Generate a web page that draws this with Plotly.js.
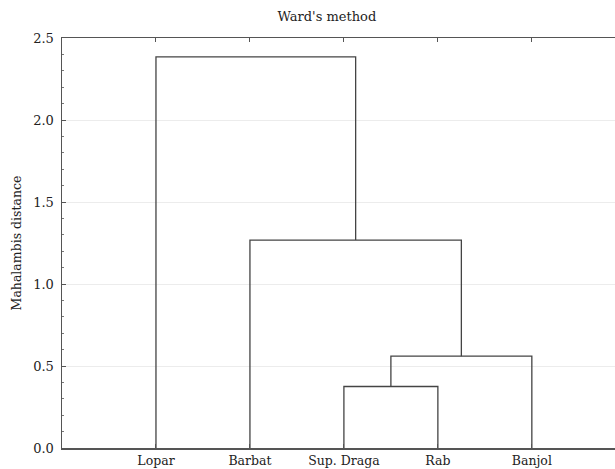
<!DOCTYPE html>
<html>
<head>
<meta charset="utf-8">
<script src="https://cdn.plot.ly/plotly-3.0.1.min.js"></script>
<style>html,body{margin:0;padding:0;background:#fff;}#chart{width:615px;height:469px;}</style>
</head>
<body>
<div id="chart"></div>
<script>
// Leaves in dendrogram order
const leaves = ["Lopar", "Barbat", "Sup. Draga", "Rab", "Banjol"];
// Linkage (scipy-style): cluster ids 0..4 are leaves, 5.. are merges
const linkA = [2, 5, 1, 0];
const linkB = [3, 4, 6, 7];
const linkHeight = [0.375, 0.56, 1.268, 2.385];

const yTickVals = [0, 0.5, 1.0, 1.5, 2.0, 2.5];
const yTickText = ["0.0", "0.5", "1.0", "1.5", "2.0", "2.5"];

// Compute node positions from linkage
const posX = leaves.map((_, i) => i + 1);
const posY = leaves.map(() => 0);
const traces = [];
for (let k = 0; k < linkA.length; k++) {
  const a = linkA[k], b = linkB[k], h = linkHeight[k];
  traces.push({
    type: "scatter", mode: "lines",
    x: [posX[a], posX[a], posX[b], posX[b]],
    y: [posY[a], h, h, posY[b]],
    line: {color: "#444", width: 1.3},
    hoverinfo: "skip", showlegend: false
  });
  posX.push((posX[a] + posX[b]) / 2);
  posY.push(h);
}

const fam = "DejaVu Serif, Liberation Serif, serif";
const layout = {
  width: 615, height: 469,
  margin: {l: 62, r: 0, t: 38, b: 21},
  paper_bgcolor: "#fff", plot_bgcolor: "#fff",
  font: {family: fam, size: 13, color: "#222"},
  showlegend: false,
  title: {text: "Ward's method", font: {family: fam, size: 13, color: "#222"},
          x: 0.479, xref: "paper", xanchor: "center", y: 1, yref: "container", yanchor: "top", pad: {t: 12}},
  xaxis: {
    range: [0, 5.885],
    tickmode: "array", tickvals: leaves.map((_, i) => i + 1), ticktext: leaves,
    ticks: "inside", ticklen: 4, tickcolor: "#555", tickwidth: 1,
    showline: true, linecolor: "#555", linewidth: 1.5, mirror: "ticks",
    showgrid: false, zeroline: false, ticklabelstandoff: 0,
    tickfont: {family: fam, size: 12.5, color: "#222"}
  },
  yaxis: {
    range: [0, 2.5],
    tickmode: "array", tickvals: yTickVals, ticktext: yTickText,
    ticks: "inside", ticklen: 4, tickcolor: "#555", tickwidth: 1,
    minor: {dtick: 0.1, tick0: 0, ticks: "inside", ticklen: 2, tickcolor: "#777", showgrid: false},
    showline: true, linecolor: "#555", linewidth: 1.5,
    showgrid: true, gridcolor: "#ececec", gridwidth: 1, zeroline: false,
    ticklabelstandoff: 4,
    tickfont: {family: fam, size: 13, color: "#222"},
    title: {text: "Mahalambis distance", font: {family: fam, size: 12.5, color: "#222"}, standoff: 9}
  }
};

Plotly.newPlot("chart", traces, layout, {displayModeBar: false, staticPlot: true});
</script>
</body>
</html>
